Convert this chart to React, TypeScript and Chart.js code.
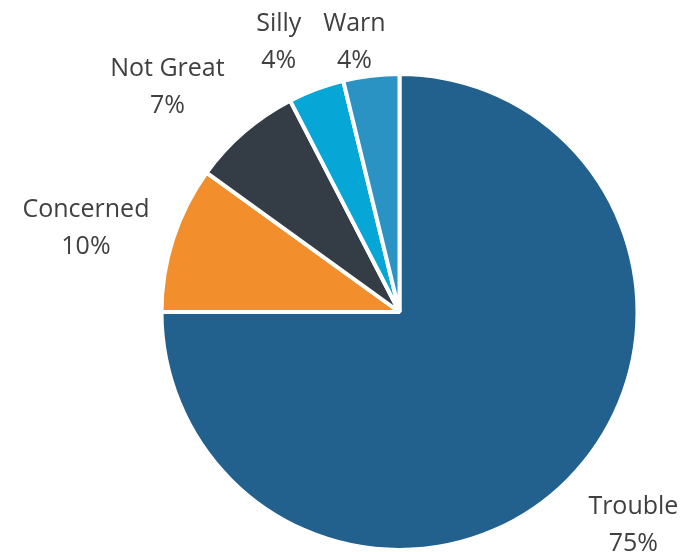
import React, { useEffect, useRef } from "react";
import { Chart, registerables } from "chart.js";

Chart.register(...registerables);

const categories = ["Trouble", "Concerned", "Not Great", "Silly", "Warn"];
const values = [75, 9.95, 7.45, 3.8, 3.8];
const colors = ["#22608E", "#F28E2B", "#343D46", "#06A6D6", "#2A93C4"];
// label block offsets (px) from the slice's outer edge at its mid-angle
const labelNudges: [number, number][] = [
  [67, 44],
  [-89, -13],
  [-78, -48],
  [-38, -51],
  [-17, -38],
];

const BORDER = 4;
const FONT = '25px "Open Sans"';
const LINE_GAP = 37;

const labelPlugin = {
  id: "outsideLabels",
  afterDatasetsDraw(chart: any) {
    const ctx = chart.ctx;
    const meta = chart.getDatasetMeta(0);
    const ds = chart.data.datasets[0].data as number[];
    const total = ds.reduce((a, b) => a + b, 0);
    ctx.save();
    ctx.font = FONT;
    ctx.fillStyle = "#404040";
    ctx.textAlign = "center";
    ctx.textBaseline = "alphabetic";
    meta.data.forEach((el: any, i: number) => {
      const p = el.getProps(["x", "y", "startAngle", "endAngle", "outerRadius"], true);
      const mid = (p.startAngle + p.endAngle) / 2;
      const r = p.outerRadius - BORDER / 2;
      const bx = p.x + Math.cos(mid) * r + labelNudges[i][0];
      const by = p.y + Math.sin(mid) * r + labelNudges[i][1];
      const pct = Math.round((ds[i] / total) * 100) + "%";
      const line1 = by - 9;
      ctx.fillText(chart.data.labels[i], bx, line1);
      ctx.fillText(pct, bx, line1 + LINE_GAP);
    });
    ctx.restore();
  },
};

export default function App() {
  const ref = useRef<HTMLCanvasElement | null>(null);
  useEffect(() => {
    let chart: Chart | null = null;
    let cancelled = false;
    const make = () => {
      if (cancelled || !ref.current) return;
      chart = new Chart(ref.current, {
        type: "pie",
        data: {
          labels: categories,
          datasets: [
            {
              data: values,
              backgroundColor: colors,
              borderColor: "#ffffff",
              borderWidth: BORDER,
            },
          ],
        },
        options: {
          responsive: false,
          animation: false,
          radius: 238,
          layout: { padding: { left: 160, right: 43, top: 72, bottom: 0 } },
          plugins: {
            legend: { display: false },
            tooltip: { enabled: false },
          },
        } as any,
        plugins: [labelPlugin],
      });
    };
    const fonts: any = (document as any).fonts;
    if (fonts && fonts.load) {
      fonts.load(FONT).then(make, make);
    } else make();
    return () => {
      cancelled = true;
      if (chart) chart.destroy();
    };
  }, []);
  return (
    <div style={{ position: "absolute", left: 0, top: 0, width: 682, height: 552, background: "#fff" }}>
      <canvas ref={ref} width={682} height={552} style={{ width: 682, height: 552 }} />
    </div>
  );
}
